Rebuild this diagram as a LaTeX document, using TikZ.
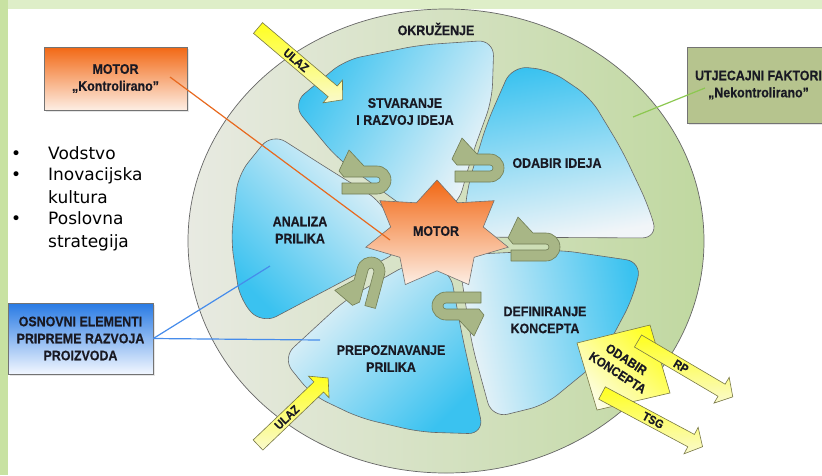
\documentclass[tikz,border=0pt]{standalone}
\usepackage{fontspec}
\newfontfamily\nfb{Liberation Sans Bold}[FakeStretch=0.9, FakeBold=0.4]
\newfontfamily\blf{DejaVu Sans}
\usetikzlibrary{shadows}
\definecolor{petalblue}{RGB}{58,194,240}
\definecolor{petallight}{RGB}{241,245,248}
\definecolor{ringleft}{RGB}{232,234,226}
\definecolor{ringright}{RGB}{192,216,160}
\definecolor{uarfill}{RGB}{168,182,134}
\definecolor{uarline}{RGB}{112,124,84}
\definecolor{yel}{RGB}{255,255,30}
\definecolor{yellight}{RGB}{250,250,205}
\definecolor{yline}{RGB}{120,120,70}
\definecolor{orangetop}{RGB}{242,104,20}
\definecolor{orangebot}{RGB}{253,238,228}
\definecolor{bluetop}{RGB}{40,122,228}
\definecolor{bluebot}{RGB}{242,247,255}
\definecolor{olivebox}{RGB}{182,196,142}
\definecolor{bgtop}{RGB}{222,238,200}
\definecolor{bgleft}{RGB}{200,226,162}
\definecolor{orline}{RGB}{232,105,30}
\definecolor{grline}{RGB}{140,200,80}
\definecolor{blline}{RGB}{70,140,235}
\definecolor{txt}{RGB}{25,25,35}
\tikzset{
  petal/.style={draw=black!60, line width=0.6pt, rounded corners=16pt},
  lbl/.style={font=\nfb\fontsize{13.8}{17}\selectfont, align=center, text=txt, inner sep=0pt},
  albl/.style={font=\nfb\fontsize{12}{13}\selectfont, text=txt, inner sep=0pt},
  boxst/.style={draw=black!55, line width=0.6pt, align=center, inner sep=0pt,
    font=\nfb\fontsize{13.8}{17}\selectfont, text=txt,
    drop shadow={opacity=0.2, shadow xshift=2pt, shadow yshift=-2pt}},
  uarr/.style={fill=uarfill, draw=uarline, line width=0.6pt, line join=round},
  yarr/.style={draw=yline, line width=0.6pt, top color=yel, bottom color=yellight},
  blt/.style={font=\blf\fontsize{17}{20}\selectfont, inner sep=0pt, anchor=base west},
  conn/.style={line width=1.2pt},
}
\newcommand{\uturn}[3]{%
  \draw[uarr, shift={(#1,#2)}, rotate=#3] (-35,3) -- (0,3)
    arc[start angle=90,end angle=-90,radius=3] -- (-33,-3) -- (-38,-9)
    -- (-28,-30) -- (-13,-14) -- (0,-14)
    arc[start angle=-90,end angle=90,radius=14] -- (-35,14) -- cycle;}
\newcommand{\yarrow}[7]{%
  \begin{scope}[shift={(#2,#3)}, rotate=#4]
    \draw[yarr] (0,-7) -- ({#5-13},-7) -- ({#5-13},-15) -- (#5,0) -- ({#5-13},15) -- ({#5-13},7) -- (0,7) -- cycle;
    \node[albl, rotate=#4] (#1) at (#7,0) {#6};
  \end{scope}}
\begin{document}
\begin{tikzpicture}[x=1pt,y=-1pt]
\useasboundingbox (0,0) rectangle (822,475);
\fill[white] (0,0) rectangle (822,475);
\fill[bgtop] (0,0) rectangle (822,9);
\fill[bgleft] (0,0) rectangle (8,475);

% environment ring
\draw[draw=black!60, line width=0.7pt, left color=ringleft, right color=ringright]
  (446,241) ellipse [x radius=258, y radius=232];
\node[lbl] (okr) at (436,29) {OKRUŽENJE};

% petals
\draw[petal, top color=petalblue, bottom color=petallight, shading angle=60]
  (292,104) -- (345,60) -- (420,45) -- (494,40) -- (492,100) -- (472,155) -- (458,205)
  -- (425,222) -- (385,193) -- (337,158) -- cycle;
\draw[petal, top color=petalblue, bottom color=petallight, shading angle=10]
  (462,237) -- (468,185) -- (487,123) -- (512,66) -- (550,70) -- (590,97) -- (622,150)
  -- (648,205) -- (658,238) -- cycle;
\draw[petal, top color=petalblue, bottom color=petallight, shading angle=135]
  (272,133) -- (330,170) -- (382,202) -- (402,250) -- (262,324) -- (240,300) -- (231,240)
  -- (238,175) -- cycle;
\draw[petal, top color=petalblue, bottom color=petallight, shading angle=-80]
  (458,255) -- (560,250) -- (642,262) -- (632,300) -- (600,360) -- (545,405) -- (492,418)
  -- (472,345) -- cycle;
\draw[petal, top color=petalblue, bottom color=petallight, shading angle=-135]
  (282,358) -- (345,300) -- (412,262) -- (450,270) -- (462,335) -- (484,434) -- (420,432)
  -- (360,418) -- (312,395) -- cycle;

\node[lbl] (stv) at (405,111.5) {STVARANJE\\I RAZVOJ IDEJA};
\node[lbl] (odi) at (557,163) {ODABIR IDEJA};
\node[lbl] (ana) at (300,230) {ANALIZA\\PRILIKA};
\node[lbl] (def) at (545,320) {DEFINIRANJE\\KONCEPTA};
\node[lbl] (pre) at (391,358.5) {PREPOZNAVANJE\\PRILIKA};

% motor star
\draw[draw=black!55, line width=0.6pt, top color=orangetop, bottom color=orangebot]
  (437,180) -- (457.6,202.8) -- (494.1,200.7) -- (483.3,227.0) -- (508.2,247.2)
  -- (474.1,257.3) -- (468.7,284.6) -- (437,270.75) -- (405.3,284.6) -- (399.9,257.3)
  -- (365.8,247.2) -- (390.7,227.0) -- (379.9,200.7) -- (416.4,202.8) -- cycle;
\node[lbl] (motor) at (436,231) {MOTOR};

% U-turn arrows
\uturn{377}{180}{0}
\uturn{490}{168}{0}
\uturn{546}{247}{0}
\uturn{446}{306}{180}
\uturn{371}{271}{75}

% input arrows
\yarrow{ulaz1}{258}{28}{-40.3}{111}{ULAZ}{50}
\yarrow{ulaz2}{258}{445}{43.7}{97}{ULAZ}{40}

% concept selection
\draw[draw=yline, line width=0.6pt, top color=yel, bottom color=yellight!50!white, shading angle=-45]
  (577,343) -- (650,325) -- (670,393) -- (597,410) -- cycle;
\node[lbl, rotate=-33, font=\nfb\fontsize{13}{16}\selectfont] (odk) at (622,366) {ODABIR\\KONCEPTA};
\yarrow{rp}{638}{341}{-30.5}{110}{RP}{50}
\yarrow{tsg}{602}{393}{-28.1}{114}{TSG}{58}

% boxes
\node[boxst, top color=orangetop, bottom color=orangebot, minimum width=143pt, minimum height=63pt] (mbox) at (115.5,78.5) {MOTOR\\„Kontrolirano”};
\node[boxst, fill=olivebox, minimum width=143pt, minimum height=76pt] (ubox) at (758.5,85) {UTJECAJNI FAKTORI\\„Nekontrolirano”};
\node[boxst, top color=bluetop, bottom color=bluebot, minimum width=145pt, minimum height=71pt] (obox) at (80.5,338.5) {OSNOVNI ELEMENTI\\PRIPREME RAZVOJA\\PROIZVODA};

% connectors
\coordinate (mk) at (170,77);
\coordinate (ms) at (390,240);
\draw[conn, orline] (mk) -- (ms);
\coordinate (uk) at (705,88);
\coordinate (ur) at (633,117);
\draw[conn, grline] (uk) -- (ur);
\coordinate (oa) at (270,266);
\coordinate (op) at (320,340);
\draw[conn, blline] (obox.east) -- (oa);
\draw[conn, blline] (obox.east) -- (op);

% bullet list
\node[blt] (d1) at (11,159) {•};
\node[blt] (t1) at (48,159) {Vodstvo};
\node[blt] (d2) at (11,180) {•};
\node[blt] (t2) at (48,180) {Inovacijska};
\node[blt] (t3) at (48,203) {kultura};
\node[blt] (d4) at (11,224) {•};
\node[blt] (t4) at (48,224) {Poslovna};
\node[blt] (t5) at (48,247) {strategija};
\end{tikzpicture}
\end{document}
